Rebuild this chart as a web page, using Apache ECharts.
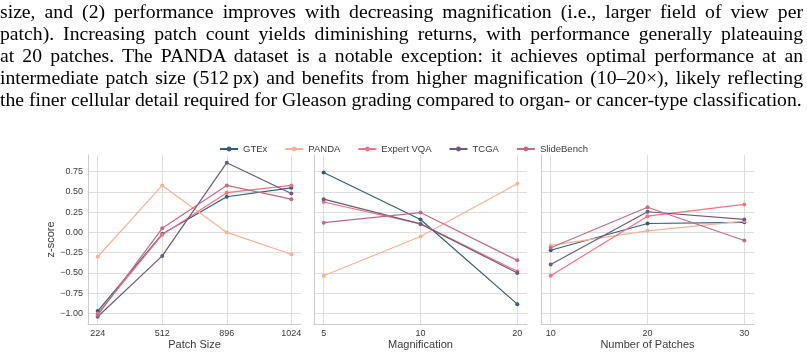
<!DOCTYPE html>
<html>
<head>
<meta charset="utf-8">
<script src="https://cdn.jsdelivr.net/npm/echarts@6/dist/echarts.min.js"></script>
<style>
  html, body { margin: 0; padding: 0; background: #fff; }
  #wrap { position: relative; width: 807px; height: 356px; overflow: hidden; }
  #chart { position: absolute; left: 0; top: 0; width: 807px; height: 356px; }
  #para { position: absolute; left: 0; top: 0; width: 803px; font-family: "Liberation Serif", "Times New Roman", serif; font-size: 19.7px; line-height: 22px; color: #000; }
  #para .ln { white-space: nowrap; text-align: justify; text-align-last: justify; }
  #para .last { white-space: nowrap; text-align: left; }
</style>
</head>
<body>
<div id="wrap">
  <div id="chart"></div>
  <div id="para">
    <div class="ln">size, and (2) performance improves with decreasing magnification (i.e., larger field of view per</div>
    <div class="ln">patch). Increasing patch count yields diminishing returns, with performance generally plateauing</div>
    <div class="ln">at 20 patches. The PANDA dataset is a notable exception: it achieves optimal performance at an</div>
    <div class="ln">intermediate patch size (512&#8201;px) and benefits from higher magnification (10–20×), likely reflecting</div>
    <div class="last">the finer cellular detail required for Gleason grading compared to organ- or cancer-type classification.</div>
  </div>
</div>
<script>
// categories per panel
const patchSizes = ['224', '512', '896', '1024']
const magnifications = ['5', '10', '20']
const patchCounts = ['10', '20', '30']
const yTicks = [-1.0, -0.75, -0.5, -0.25, 0.0, 0.25, 0.5, 0.75]

const datasets = ['GTEx', 'PANDA', 'Expert VQA', 'TCGA', 'SlideBench']
const colors = ['#355C7D', '#F8B195', '#F67280', '#6C5B7B', '#C06C84']

// z-scores by patch size (224, 512, 896, 1024)
const sizeGTEx = [-0.97, -0.02, 0.44, 0.55]
const sizePANDA = [-0.30, 0.58, 0.00, -0.27]
const sizeExpertVQA = [-1.00, -0.03, 0.49, 0.58]
const sizeTCGA = [-1.04, -0.29, 0.86, 0.48]
const sizeSlideBench = [-1.02, 0.05, 0.58, 0.41]

// z-scores by magnification (5, 10, 20)
const magGTEx = [0.74, 0.16, -0.885]
const magPANDA = [-0.535, -0.05, 0.60]
const magExpertVQA = [0.375, 0.105, -0.48]
const magTCGA = [0.41, 0.105, -0.50]
const magSlideBench = [0.12, 0.245, -0.345]

// z-scores by number of patches (10, 20, 30)
const cntGTEx = [-0.22, 0.11, 0.125]
const cntPANDA = [-0.16, 0.02, 0.14]
const cntExpertVQA = [-0.535, 0.20, 0.345]
const cntTCGA = [-0.395, 0.255, 0.16]
const cntSlideBench = [-0.19, 0.31, -0.10]

const panels = [
  { cats: patchSizes, name: 'Patch Size', data: [sizeGTEx, sizePANDA, sizeExpertVQA, sizeTCGA, sizeSlideBench] },
  { cats: magnifications, name: 'Magnification', data: [magGTEx, magPANDA, magExpertVQA, magTCGA, magSlideBench] },
  { cats: patchCounts, name: 'Number of Patches', data: [cntGTEx, cntPANDA, cntExpertVQA, cntTCGA, cntSlideBench] }
]

const font = '"Liberation Sans", Arial, sans-serif'
const gridColor = '#dedede'
const spineColor = '#cccccc'
const textColor = '#3a3a3a'
const gridLefts = [88, 314, 541]

let grids = []
let xAxes = []
let yAxes = []
let series = []

panels.forEach((p, i) => {
  const n = p.cats.length
  const pad = (n - 1) * 0.05
  grids.push({ left: gridLefts[i], top: 155, width: 213, height: 169 })
  xAxes.push({
    type: 'value',
    gridIndex: i,
    min: -pad,
    max: n - 1 + pad,
    name: p.name,
    nameLocation: 'middle',
    nameGap: 15,
    nameTextStyle: { fontFamily: font, fontSize: 11, color: textColor },
    axisLine: { show: true, onZero: false, lineStyle: { color: spineColor, width: 1 } },
    axisTick: { show: false, customValues: p.cats.map((c, k) => k) },
    axisLabel: {
      customValues: p.cats.map((c, k) => k),
      formatter: v => p.cats[Math.round(v)],
      fontFamily: font, fontSize: 9, color: textColor, margin: 5
    },
    splitLine: { show: true, lineStyle: { color: gridColor, width: 1 } }
  })
  yAxes.push({
    type: 'value',
    gridIndex: i,
    min: -1.13,
    max: 0.955,
    name: i === 0 ? 'z-score' : '',
    nameLocation: 'middle',
    nameGap: 22,
    nameTextStyle: { fontFamily: font, fontSize: 11, color: textColor },
    axisLine: { show: true, onZero: false, lineStyle: { color: spineColor, width: 1 } },
    axisTick: { show: false, customValues: yTicks },
    axisLabel: {
      show: i === 0,
      customValues: yTicks,
      formatter: v => (v < 0 ? '\u2212' : '') + Math.abs(v).toFixed(2),
      fontFamily: font, fontSize: 9, color: textColor, margin: 5
    },
    splitLine: { show: true, lineStyle: { color: gridColor, width: 1 } }
  })
  p.data.forEach((vals, s) => {
    series.push({
      name: datasets[s],
      type: 'line',
      xAxisIndex: i,
      yAxisIndex: i,
      data: vals.map((v, k) => [k, v]),
      symbol: 'circle',
      symbolSize: 4,
      color: colors[s],
      lineStyle: { width: 1.2, color: colors[s] },
      itemStyle: { color: colors[s] },
      emphasis: { disabled: true },
      animation: false
    })
  })
})

const chart = echarts.init(document.getElementById('chart'))
chart.setOption({
  backgroundColor: '#fff',
  animation: false,
  legend: {
    data: datasets,
    top: 139,
    left: 'center',
    itemWidth: 18,
    itemHeight: 6,
    itemGap: 17,
    textStyle: { fontFamily: font, fontSize: 9.5, color: textColor }
  },
  grid: grids,
  xAxis: xAxes,
  yAxis: yAxes,
  series: series
})
</script>
</body>
</html>
